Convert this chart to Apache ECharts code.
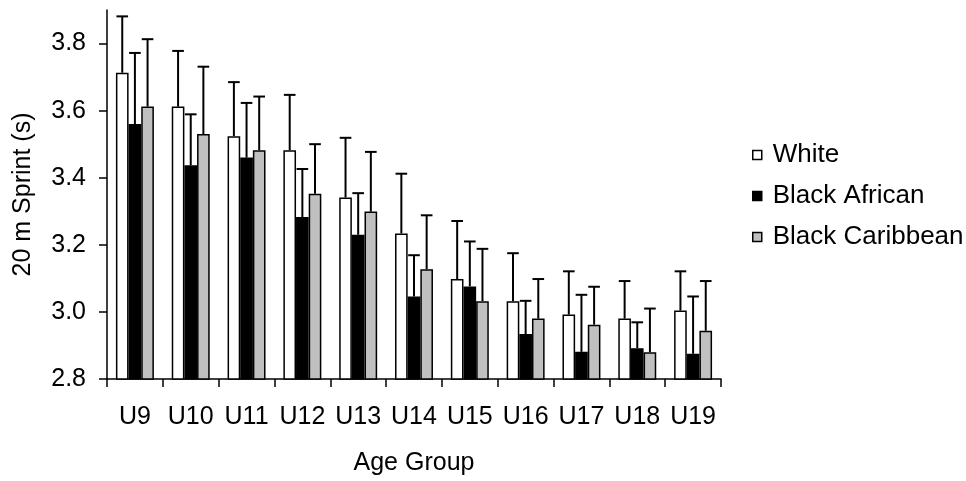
<!DOCTYPE html>
<html>
<head>
<meta charset="utf-8">
<script src="https://cdn.jsdelivr.net/npm/echarts@6/dist/echarts.min.js"></script>
<style>
  html, body { margin: 0; padding: 0; background: #fff; }
  #chart { width: 966px; height: 481px; }
</style>
</head>
<body>
<div id="chart"></div>
<script>
// Age groups on the x axis
const ageGroups = ['U9', 'U10', 'U11', 'U12', 'U13', 'U14', 'U15', 'U16', 'U17', 'U18', 'U19'];

// Mean 20 m sprint time (s) per group
const whiteMean     = [3.713, 3.612, 3.524, 3.482, 3.341, 3.234, 3.098, 3.032, 2.992, 2.980, 3.004];
const africanMean   = [3.560, 3.437, 3.460, 3.283, 3.230, 3.046, 3.076, 2.934, 2.881, 2.892, 2.875];
const caribbeanMean = [3.612, 3.530, 3.482, 3.352, 3.299, 3.127, 3.032, 2.980, 2.962, 2.880, 2.944];

// Standard deviations (upper error bars)
const whiteSD     = [0.168, 0.166, 0.161, 0.165, 0.178, 0.178, 0.173, 0.143, 0.129, 0.112, 0.117];
const africanSD   = [0.212, 0.152, 0.163, 0.143, 0.124, 0.123, 0.134, 0.099, 0.170, 0.077, 0.171];
const caribbeanSD = [0.201, 0.201, 0.160, 0.148, 0.178, 0.161, 0.156, 0.118, 0.113, 0.130, 0.148];

// Y axis tick values
const yTicks = [2.8, 3.0, 3.2, 3.4, 3.6, 3.8];

const groups = [
  { name: 'White',           mean: whiteMean,     sd: whiteSD,     color: '#ffffff' },
  { name: 'Black African',   mean: africanMean,   sd: africanSD,   color: '#000000' },
  { name: 'Black Caribbean', mean: caribbeanMean, sd: caribbeanSD, color: '#c0c0c0' }
];

const CATEGORY_GAP = 0.32;
const FONT = '"Liberation Sans", Arial, sans-serif';
const FS = 25;

const barSeries = groups.map(g => ({
  name: g.name,
  type: 'bar',
  data: g.mean,
  barGap: '0%',
  barCategoryGap: (CATEGORY_GAP * 100) + '%',
  itemStyle: { color: g.color, borderColor: '#000', borderWidth: 1.5 },
  emphasis: { disabled: true },
  z: 2
}));

// One-sided (upper) SD whiskers drawn over each bar
const errorSeries = groups.map((g, k) => ({
  name: g.name + ' SD',
  type: 'custom',
  data: g.mean.map((m, i) => [i, m, g.sd[i]]),
  encode: { x: 0, y: 1 },
  z: 3,
  silent: true,
  renderItem: function (params, api) {
    const cat = api.value(0);
    const mean = api.value(1);
    const sd = api.value(2);
    const base = api.coord([cat, mean]);
    const top = api.coord([cat, mean + sd]);
    const band = api.size([1, 0])[0];
    const barW = band * (1 - CATEGORY_GAP) / groups.length;
    const x = base[0] + (k - (groups.length - 1) / 2) * barW;
    const half = barW * 0.46;
    const style = { stroke: '#000', lineWidth: 2, fill: null };
    return {
      type: 'group',
      children: [
        { type: 'line', shape: { x1: x, y1: base[1], x2: x, y2: top[1] }, style: style },
        { type: 'line', shape: { x1: x - half, y1: top[1], x2: x + half, y2: top[1] }, style: style }
      ]
    };
  }
}));

const chart = echarts.init(document.getElementById('chart'), null, { renderer: 'canvas' });
chart.setOption({
  animation: false,
  backgroundColor: '#fff',
  textStyle: { fontFamily: FONT, color: '#000' },
  grid: { left: 107, right: 245, top: 10, bottom: 101, containLabel: false },
  legend: {
    data: groups.map(g => g.name),
    orient: 'vertical',
    left: 747,
    top: 137,
    itemWidth: 9,
    itemHeight: 9,
    itemGap: 15,
    icon: 'rect',
    itemStyle: { borderColor: '#000', borderWidth: 1.5 },
    textStyle: { fontSize: 26, fontFamily: FONT, color: '#000', padding: [0, 0, 0, 6] },
    selectedMode: false
  },
  xAxis: {
    type: 'category',
    data: ageGroups,
    name: 'Age Group',
    nameLocation: 'middle',
    nameGap: 72,
    nameTextStyle: { fontSize: FS, fontFamily: FONT, color: '#000' },
    axisLine: { lineStyle: { color: '#000', width: 1.5 } },
    axisTick: { show: true, length: 8, inside: false, lineStyle: { color: '#000', width: 1.5 } },
    axisLabel: { interval: 0, fontSize: FS, fontFamily: FONT, color: '#000', margin: 26 },
    splitLine: { show: false }
  },
  yAxis: {
    type: 'value',
    min: 2.8,
    max: 3.9,
    interval: 0.2,
    name: '20 m Sprint (s)',
    nameLocation: 'middle',
    nameRotate: 90,
    nameGap: 71,
    nameTextStyle: { fontSize: FS, fontFamily: FONT, color: '#000' },
    axisLine: { show: true, lineStyle: { color: '#000', width: 1.5 } },
    axisTick: { show: true, length: 8, lineStyle: { color: '#000', width: 1.5 }, customValues: yTicks },
    axisLabel: {
      fontSize: FS, fontFamily: FONT, color: '#000', margin: 21,
      customValues: yTicks,
      formatter: v => v.toFixed(1)
    },
    splitLine: { show: false }
  },
  series: barSeries.concat(errorSeries)
});
</script>
</body>
</html>
